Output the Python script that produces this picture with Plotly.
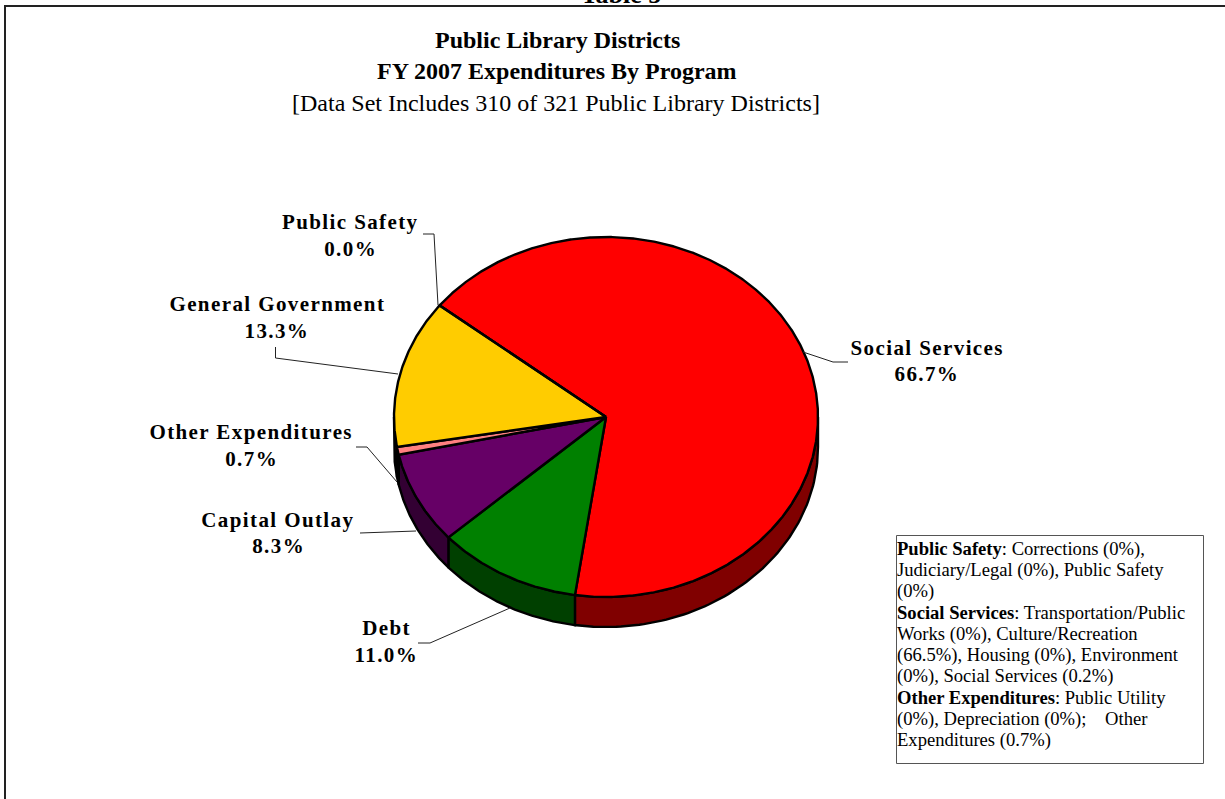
import numpy as np
import plotly.graph_objects as go

# ---- data (clockwise from the first slice) ----
categories = ["Social Services", "Debt", "Capital Outlay", "Other Expenditures", "General Government", "Public Safety"]
values = [66.7, 11.0, 8.3, 0.7, 13.3, 0.0]
value_labels = ["66.7%", "11.0%", "8.3%", "0.7%", "13.3%", "0.0%"]
top_colors = ["#FF0000", "#008000", "#660066", "#FF8080", "#FFCC00", "#000080"]
side_colors = ["#800000", "#004000", "#330033", "#804040", "#806600", "#000040"]

title_lines = ["Public Library Districts", "FY 2007 Expenditures By Program"]
subtitle = "[Data Set Includes 310 of 321 Public Library Districts]"
clipped_header = "Table 5"
note_lines = [
    "<b>Public Safety</b>: Corrections (0%),",
    "Judiciary/Legal (0%), Public Safety",
    "(0%)",
    "<b>Social Services</b>: Transportation/Public",
    "Works (0%), Culture/Recreation",
    "(66.5%), Housing (0%), Environment",
    "(0%), Social Services (0.2%)",
    "<b>Other Expenditures</b>: Public Utility",
    "(0%), Depreciation (0%);    Other",
    "Expenditures (0.7%)",
]

# ---- layout geometry ----
W, H = 1225, 799
CX, CY, RX, RY, DEPTH = 606, 417, 212, 180, 30
START_DEG = 308.3
FONT = "Liberation Serif"

label_pos = {  # centre x, first line y, second line y
    "Social Services": (927, 348, 374),
    "Debt": (386, 628, 655),
    "Capital Outlay": (278, 520, 546),
    "Other Expenditures": (251, 432, 459),
    "General Government": (277, 304, 331),
    "Public Safety": (350, 222, 249),
}
leaders = {
    "Social Services": [(803, 352), (833, 362), (848, 362)],
    "Debt": [(418, 643), (430, 643), (510, 608)],
    "Capital Outlay": [(360, 533), (416, 531)],
    "Other Expenditures": [(356, 447), (367, 447), (397, 482)],
    "General Government": [(275.5, 347), (275.5, 358), (398, 374)],
    "Public Safety": [(423, 234), (434, 234), (438, 305)],
}


def ell(t_deg, dy=0.0):
    t = np.radians(t_deg)
    return CX + RX * np.sin(t), CY - RY * np.cos(t) + dy


fig = go.Figure()

total = sum(values)
spans = np.array(values) / total * 360
starts = START_DEG + np.concatenate([[0], np.cumsum(spans)[:-1]])

for name, a0, sp, col in zip(categories, starts, spans, side_colors):
    if sp == 0:
        continue
    for shift in (0, 360):
        lo = max(a0, 90 + shift)
        hi = min(a0 + sp, 270 + shift)
        if hi <= lo:
            continue
        th = np.linspace(lo, hi, 80)
        x1, y1 = ell(th)
        x2, y2 = ell(th[::-1], DEPTH)
        fig.add_trace(go.Scatter(
            x=np.r_[x1, x2, x1[0]], y=np.r_[y1, y2, y1[0]], mode="lines", fill="toself",
            fillcolor=col, line=dict(color="black", width=2.4), name=name, hoverinfo="name"))

for name, a0, sp, col in zip(categories, starts, spans, top_colors):
    th = np.linspace(a0, a0 + sp, max(int(sp * 3), 2))
    x, y = ell(th)
    fig.add_trace(go.Scatter(
        x=np.r_[CX, x, CX], y=np.r_[CY, y, CY], mode="lines", fill="toself",
        fillcolor=col, line=dict(color="black", width=2.4), name=name, hoverinfo="name"))

for name in categories:
    pts = leaders[name]
    fig.add_trace(go.Scatter(x=[p[0] for p in pts], y=[p[1] for p in pts], mode="lines",
                             line=dict(color="#222222", width=1), hoverinfo="skip"))

# clipped page header: a text mark whose glyphs run past the top edge of the page
fig.add_trace(go.Scatter(x=[621], y=[9], mode="text", text=[f"<b>{clipped_header}</b>"],
                         textposition="top center", cliponaxis=False, hoverinfo="skip",
                         textfont=dict(family=FONT, size=26, color="black")))

ann = []


def text(x, y, s, size, bold=False, **kw):
    ann.append(dict(x=x, y=y, xref="x", yref="y", text=f"<b>{s}</b>" if bold else s, showarrow=False,
                    font=dict(family=FONT, size=size, color="black"), **kw))


LABEL_SIZE = 21
label_start = 0
for name, vl in zip(categories, value_labels):
    cx, y1, y2 = label_pos[name]
    text(cx, y1, name, LABEL_SIZE, True)
    text(cx, y2, vl, LABEL_SIZE, True)
label_end = len(ann)

text(557, 40, title_lines[0], 24, True)
text(557, 71, title_lines[1], 24, True)
text(556, 103, subtitle, 24)
for i, line in enumerate(note_lines):
    text(895, 549 + 21.2 * i, line, 18.6, xanchor="left", align="left")

shapes = [
    dict(type="rect", x0=896.5, x1=1203.5, y0=535.5, y1=763.5, line=dict(color="#555555", width=1)),
    dict(type="line", x0=5, x1=5, y0=5, y1=H, line=dict(color="#222222", width=2)),
    dict(type="line", x0=4, x1=W, y0=6, y1=6, line=dict(color="#222222", width=2)),
]

fig.update_layout(
    width=W, height=H, margin=dict(l=0, r=0, t=0, b=0), showlegend=False,
    paper_bgcolor="white", plot_bgcolor="white",
    xaxis=dict(range=[0, W], visible=False, fixedrange=True),
    yaxis=dict(range=[H, 0], visible=False, fixedrange=True),
    annotations=ann, shapes=shapes,
)

post = """
document.body.style.margin='0';
document.body.style.overflow='hidden';
document.querySelectorAll('.annotation').forEach(function(a){
  var i=+a.getAttribute('data-index');
  if(i>=%d && i<%d){a.querySelectorAll('text').forEach(function(t){t.style.letterSpacing='1.4px';});}
});
""" % (label_start, label_end)
fig.write_html("out.html", post_script=post, config={"displayModeBar": False})
